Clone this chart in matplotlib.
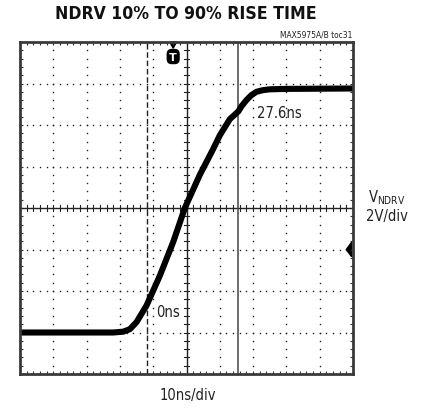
import numpy as np
import matplotlib
matplotlib.use("Agg")
import matplotlib.pyplot as plt
from matplotlib.patches import Polygon

# ---- data (time in ns, voltage in V; 2 V/div, 10 ns/div) ----
t_ns = [0, 28, 31, 33, 35, 38, 42, 46, 49.5, 54, 58, 60, 63, 65.6, 66.5, 68, 69.5, 71, 73, 75, 80, 100]
v_div = [1.0, 1.0, 1.02, 1.08, 1.25, 1.65, 2.37, 3.18, 4.0, 4.8, 5.42, 5.75, 6.14, 6.33, 6.45, 6.6, 6.72, 6.8, 6.84, 6.86, 6.87, 6.88]
v_volts = [(d - 4.0) * 2.0 for d in v_div]
cursor_start_ns = 38.0
cursor_end_ns = 65.6
cursor_labels = ["0ns", "27.6ns"]
trigger_ns = 46.0
ground_level_v = -2.0

title = "NDRV 10% TO 90% RISE TIME"
tag = "MAX5975A/B toc31"
xlabel = "10ns/div"

fig = plt.figure(figsize=(4.25, 4.10), dpi=100)
ax = fig.add_axes([20/425, 35/410, 333/425, 332/410])
ax.set_xlim(0, 100)
ax.set_ylim(-8, 8)

frame_col = "#3a3a3a"
for s in ax.spines.values():
    s.set_linewidth(2.0)
    s.set_color(frame_col)

ax.set_xticks([])
ax.set_yticks([])
ax.set_xticks(np.arange(0, 100.1, 2), minor=True)
ax.set_yticks(np.arange(-8, 8.01, 0.4), minor=True)
ax.tick_params(which="minor", direction="in", length=2.5, width=0.8, color="#333333",
               top=True, right=True, bottom=True, left=True,
               labelbottom=False, labelleft=False)

gcol = "#222222"
for gx in range(10, 100, 10):
    if gx == 50:
        continue
    ys = np.arange(-8, 8.01, 0.4)
    ax.plot([gx]*len(ys), ys, ls="none", marker="s", ms=1.0, color=gcol, mew=0)
for gy in range(-6, 8, 2):
    if gy == 0:
        continue
    xs = np.arange(0, 100.1, 2)
    ax.plot(xs, [gy]*len(xs), ls="none", marker="s", ms=1.0, color=gcol, mew=0)

ax.axhline(0, color="#222222", lw=1.0)
ax.axvline(50, color="#222222", lw=1.0)
for tx in np.arange(0, 100.1, 2):
    ax.plot([tx, tx], [-0.15, 0.15], color="#222222", lw=0.8)
for ty in np.arange(-8, 8.01, 0.4):
    ax.plot([49.1, 50.9], [ty, ty], color="#222222", lw=0.8)

ax.axvline(cursor_start_ns, color="#222222", lw=1.0, ls=(0, (4, 2)))
ax.axvline(cursor_end_ns, color="#444444", lw=1.1)

ax.plot(t_ns, v_volts, color="black", lw=4.4, solid_capstyle="butt", solid_joinstyle="round")

# trigger marker
ax.add_patch(Polygon([[trigger_ns - 1.0, 8.0], [trigger_ns + 1.0, 8.0], [trigger_ns, 7.7]],
                     closed=True, color="black", clip_on=False))
ax.text(trigger_ns, 7.3, "T", color="white", fontsize=8, fontweight="bold",
        ha="center", va="center",
        bbox=dict(boxstyle="round,pad=0.18,rounding_size=0.4", fc="black", ec="black"))

ax.add_patch(Polygon([[98.0, ground_level_v], [99.6, ground_level_v + 0.35],
                      [99.6, ground_level_v - 0.35]], closed=True, color="black"))

TXT = dict(family="DejaVu Sans", fontstretch="condensed", color="#222222")
ax.text(cursor_start_ns + 3.0, -5.0, cursor_labels[0], fontsize=10.5, ha="left", va="center", **TXT)
ax.text(cursor_end_ns + 5.5, 4.6, cursor_labels[1], fontsize=10.5, ha="left", va="center", **TXT)

fig.text(186/425, 1 - 14/410, title, fontsize=12.6, fontweight="heavy", family="DejaVu Sans",
         fontstretch="condensed", ha="center", va="center", color="#111111")
fig.text(352/425, 1 - 35/410, tag, fontsize=6, ha="right", va="center", **TXT)
fig.text(188/425, 1 - 396/410, xlabel, fontsize=10.5, ha="center", va="center", **TXT)
fig.text(387/425, 1 - 198/410, r"V$_{\mathregular{NDRV}}$", fontsize=10.5,
         ha="center", va="center", **TXT)
fig.text(387/425, 1 - 217/410, "2V/div", fontsize=10.5, ha="center", va="center", **TXT)

fig.savefig("out.png", dpi=100)
